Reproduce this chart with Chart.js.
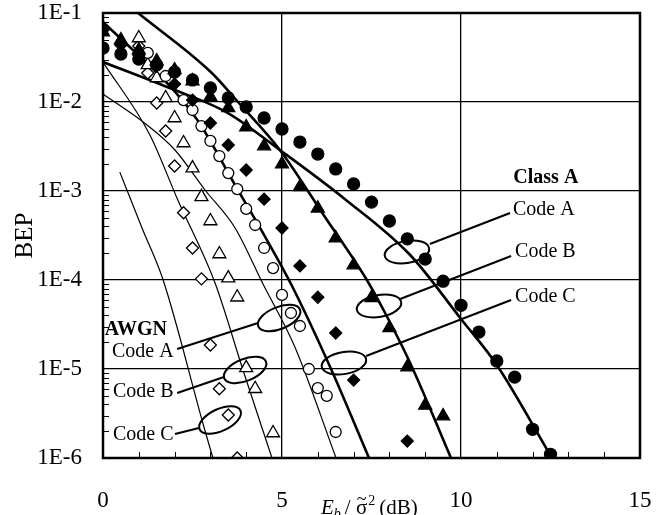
<!DOCTYPE html>
<html>
<head>
<meta charset="utf-8">
<script src="https://cdn.jsdelivr.net/npm/chart.js@4"></script>
<style>
  html, body { margin: 0; padding: 0; background: #fff; }
</style>
</head>
<body>
<canvas id="chart" width="662" height="515"></canvas>
<script>
// measured points (Class A noise, filled markers)
const classA_codeA_x = [0, 0.5, 1, 1.5, 2, 2.5, 3, 3.5, 4, 4.5, 5, 5.5, 6, 6.5, 7, 7.5, 8, 8.5, 9, 9.5, 10, 10.5, 11, 11.5, 12, 12.5];
const classA_codeA_bep = [0.0404, 0.0346, 0.0304, 0.0261, 0.0217, 0.0177, 0.0144, 0.0111, 0.00879, 0.00661, 0.00497, 0.00355, 0.0026, 0.00177, 0.0012, 7.5e-4, 4.6e-4, 2.9e-4, 1.72e-4, 9.7e-5, 5.2e-5, 2.6e-5, 1.23e-5, 8.1e-6, 2.1e-6, 1.1e-6];

const classA_codeB_x = [0, 0.5, 1, 1.5, 2, 2.5, 3, 3.5, 4, 4.5, 5, 5.5, 6, 6.5, 7, 7.5, 8, 8.5, 9, 9.5];
const classA_codeB_bep = [0.0612, 0.0497, 0.0384, 0.0289, 0.0229, 0.0172, 0.0114, 0.00857, 0.00524, 0.0032, 0.00201, 0.00111, 6.4e-4, 2.96e-4, 1.47e-4, 6.3e-5, 2.9e-5, 1.05e-5, 3.9e-6, 2.96e-6];

const classA_codeC_x = [0, 0.5, 1, 1.5, 2, 2.5, 3, 3.5, 4, 4.5, 5, 5.5, 6, 6.5, 7, 8.5];
const classA_codeC_bep = [0.0644, 0.0437, 0.0338, 0.0254, 0.0159, 0.0105, 0.00581, 0.00329, 0.00172, 8.1e-4, 3.84e-4, 1.44e-4, 6.4e-5, 2.54e-5, 7.5e-6, 1.55e-6];

// measured points (AWGN, open markers)
const awgn_codeA_x = [1.25, 1.75, 2.25, 2.5, 2.75, 3, 3.25, 3.5, 3.75, 4, 4.25, 4.5, 4.75, 5, 5.25, 5.5, 5.75, 6, 6.25, 6.5];
const awgn_codeA_bep = [0.0356, 0.0196, 0.0105, 0.00813, 0.00537, 0.00365, 0.00247, 0.00159, 0.00105, 6.3e-4, 4.15e-4, 2.29e-4, 1.36e-4, 6.8e-5, 4.26e-5, 3.04e-5, 1.0e-5, 6.1e-6, 5.0e-6, 1.96e-6];

const awgn_codeB_x = [1, 1.25, 1.5, 1.75, 2, 2.25, 2.5, 2.75, 3, 3.25, 3.5, 3.75, 4, 4.25, 4.75];
const awgn_codeB_bep = [0.0524, 0.0261, 0.0186, 0.0111, 0.00661, 0.00346, 0.00181, 8.6e-4, 4.6e-4, 1.96e-4, 1.05e-4, 6.4e-5, 1.03e-5, 6.0e-6, 1.91e-6];

const awgn_codeC_x = [1, 1.25, 1.5, 1.75, 2, 2.25, 2.5, 2.75, 3, 3.25, 3.5, 3.75];
const awgn_codeC_bep = [0.0426, 0.0212, 0.00975, 0.00472, 0.00191, 5.7e-4, 2.29e-4, 1.03e-4, 1.86e-5, 6.0e-6, 3.04e-6, 1.0e-6];

// analytical curves
const curve_classA_codeA_x = [0, 1.79, 3.49, 4.94, 6.76, 8.58, 10.0, 11.0, 12.54];
const curve_classA_codeA_bep = [0.0281, 0.01475, 0.00752, 0.00289, 8.1e-4, 1.91e-4, 3.65e-5, 1.11e-5, 1e-6];

const curve_classA_codeB_x = [0.98, 3.04, 3.77, 4.94, 6.2, 7.37, 7.88, 8.58, 9.72];
const curve_classA_codeB_bep = [0.1, 0.0212, 0.01, 0.00289, 5.1e-4, 1e-4, 4.26e-5, 1.17e-5, 1e-6];

const curve_classA_codeC_x = [0, 1.79, 2.23, 2.71, 3.69, 4.58, 5.28, 6.37, 7.43];
const curve_classA_codeC_bep = [0.0792, 0.0163, 0.01026, 0.00566, 0.001167, 2.81e-4, 8.57e-5, 1e-5, 1e-6];

const curve_awgn_codeA_x = [0, 1.23, 2.01, 2.85, 3.69, 4.47, 5.36, 6.51];
const curve_awgn_codeA_bep = [0.0123, 0.00552, 0.00289, 0.001026, 3.84e-4, 9.0e-5, 1.77e-5, 1e-6];

const curve_awgn_codeB_x = [0, 1.31, 2.09, 3.13, 3.91, 4.72];
const curve_awgn_codeB_bep = [0.0281, 0.00426, 7.92e-4, 9.25e-5, 9.75e-6, 1e-6];

const curve_awgn_codeC_x = [0.47, 1.09, 1.68, 2.82, 3.07];
const curve_awgn_codeC_bep = [1.63e-3, 3.84e-4, 1e-4, 2.23e-6, 1e-6];

const xTickLabels = [0, 5, 10, 15];
const yDecades = [-6, -5, -4, -3, -2, -1];

function pts(xs, ys) {
  return xs.map((v, i) => ({ x: v, y: ys[i] }));
}

function markers(label, xs, ys, style, filled, r) {
  return {
    label: label,
    data: pts(xs, ys),
    showLine: false,
    pointStyle: style,
    pointRadius: r,
    pointBorderWidth: 1.3,
    pointBorderColor: '#000',
    pointBackgroundColor: filled ? '#000' : '#fff',
    order: 1
  };
}

function curve(label, xs, ys, w) {
  return {
    label: label,
    data: pts(xs, ys),
    showLine: true,
    borderColor: '#000',
    borderWidth: w,
    pointRadius: 0,
    cubicInterpolationMode: 'monotone',
    order: 2
  };
}

const FONT = "'Liberation Serif', 'Times New Roman', serif";

// labels and ellipses, placed in data units (x, log10 BEP)
const annotations = {
  texts: [
    { t: 'Class A', x: 12.37, ly: -2.854, bold: true, align: 'center' },
    { t: 'Code A', x: 11.45, ly: -3.213, align: 'left' },
    { t: 'Code B', x: 11.51, ly: -3.685, align: 'left' },
    { t: 'Code C', x: 11.51, ly: -4.191, align: 'left' },
    { t: 'AWGN', x: 0.05, ly: -4.562, bold: true, align: 'left' },
    { t: 'Code A', x: 0.25, ly: -4.809, align: 'left' },
    { t: 'Code B', x: 0.28, ly: -5.258, align: 'left' },
    { t: 'Code C', x: 0.28, ly: -5.742, align: 'left' }
  ],
  ellipses: [
    { x: 8.49, ly: -3.685, rot: -10 },
    { x: 7.71, ly: -4.292, rot: -10 },
    { x: 6.73, ly: -4.933, rot: -10 },
    { x: 4.92, ly: -4.427, rot: -22 },
    { x: 3.97, ly: -5.011, rot: -22 },
    { x: 3.27, ly: -5.573, rot: -25 }
  ],
  leaders: [
    [9.13, -3.596, 11.37, -3.247],
    [8.30, -4.213, 11.40, -3.730],
    [7.35, -4.854, 11.40, -4.225],
    [4.33, -4.483, 2.07, -4.775],
    [3.38, -5.09, 2.07, -5.27],
    [2.68, -5.663, 2.01, -5.73]
  ]
};

const decor = {
  id: 'decor',
  beforeDatasetsDraw(chart) {
    const { ctx, chartArea: a, scales: { x, y } } = chart;
    ctx.save();
    ctx.strokeStyle = '#000';
    ctx.lineWidth = 1;
    ctx.beginPath();
    for (let e = -6; e < -1; e++) {
      for (let k = 2; k <= 9; k++) {
        const py = Math.round(y.getPixelForValue(k * Math.pow(10, e))) + 0.5;
        ctx.moveTo(a.left, py); ctx.lineTo(a.left + 6, py);
      }
    }
    for (let v = 1; v < 15; v++) {
      if (v % 5 === 0) continue;
      const px = Math.round(x.getPixelForValue(v)) + 0.5;
      ctx.moveTo(px, a.bottom); ctx.lineTo(px, a.bottom - 6);
    }
    ctx.stroke();
    ctx.restore();
  },
  afterDatasetsDraw(chart) {
    const { ctx, chartArea: a, scales: { x, y } } = chart;
    const px = v => x.getPixelForValue(v);
    const py = l => y.getPixelForValue(Math.pow(10, l));
    ctx.save();
    // frame
    ctx.strokeStyle = '#000';
    ctx.lineWidth = 2.5;
    ctx.strokeRect(a.left, a.top, a.right - a.left, a.bottom - a.top);

    ctx.lineWidth = 2;
    annotations.ellipses.forEach(e => {
      ctx.beginPath();
      ctx.ellipse(px(e.x), py(e.ly), 22.5, 11, e.rot * Math.PI / 180, 0, 2 * Math.PI);
      ctx.stroke();
    });
    annotations.leaders.forEach(l => {
      ctx.beginPath();
      ctx.moveTo(px(l[0]), py(l[1]));
      ctx.lineTo(px(l[2]), py(l[3]));
      ctx.stroke();
    });
    ctx.fillStyle = '#000';
    ctx.textBaseline = 'middle';
    annotations.texts.forEach(t => {
      ctx.font = (t.bold ? 'bold ' : '') + '20px ' + FONT;
      ctx.textAlign = t.align;
      ctx.fillText(t.t, px(t.x), py(t.ly));
    });

    // x axis title: E_b / sigma~^2 (dB)
    const cx = 321, base = 514;
    ctx.textAlign = 'left';
    ctx.textBaseline = 'alphabetic';
    ctx.font = 'italic 21px ' + FONT;
    ctx.fillText('E', cx, base);
    let w = ctx.measureText('E').width;
    ctx.font = 'italic 14px ' + FONT;
    ctx.fillText('b', cx + w, base + 4);
    w += ctx.measureText('b').width + 4;
    ctx.font = '21px ' + FONT;
    ctx.fillText('/ ', cx + w, base);
    w += ctx.measureText('/ ').width;
    const sw = ctx.measureText('\u03C3').width;
    ctx.fillText('\u03C3', cx + w, base);
    ctx.font = '18px ' + FONT;
    ctx.textAlign = 'center';
    ctx.fillText('~', cx + w + sw / 2, base - 9);
    ctx.textAlign = 'left';
    w += sw;
    ctx.font = '14px ' + FONT;
    ctx.fillText('2', cx + w + 1, base - 9);
    w += ctx.measureText('2').width + 5;
    ctx.font = '21px ' + FONT;
    ctx.fillText('(dB)', cx + w, base);
    ctx.restore();
  }
};

new Chart(document.getElementById('chart'), {
  type: 'scatter',
  data: {
    datasets: [
      curve('Class A Code A (analysis)', curve_classA_codeA_x, curve_classA_codeA_bep, 2.6),
      curve('Class A Code B (analysis)', curve_classA_codeB_x, curve_classA_codeB_bep, 2.6),
      curve('Class A Code C (analysis)', curve_classA_codeC_x, curve_classA_codeC_bep, 2.6),
      curve('AWGN Code A (analysis)', curve_awgn_codeA_x, curve_awgn_codeA_bep, 1.2),
      curve('AWGN Code B (analysis)', curve_awgn_codeB_x, curve_awgn_codeB_bep, 1.2),
      curve('AWGN Code C (analysis)', curve_awgn_codeC_x, curve_awgn_codeC_bep, 1.2),
      markers('Class A Code A', classA_codeA_x, classA_codeA_bep, 'circle', true, 6),
      markers('Class A Code B', classA_codeB_x, classA_codeB_bep, 'triangle', true, 7.5),
      markers('Class A Code C', classA_codeC_x, classA_codeC_bep, 'rectRot', true, 6),
      markers('AWGN Code A', awgn_codeA_x, awgn_codeA_bep, 'circle', false, 5.5),
      markers('AWGN Code B', awgn_codeB_x, awgn_codeB_bep, 'triangle', false, 7.5),
      markers('AWGN Code C', awgn_codeC_x, awgn_codeC_bep, 'rectRot', false, 6)
    ]
  },
  options: {
    responsive: false,
    animation: false,
    layout: { padding: { top: 13, right: 22, left: 0, bottom: 0 } },
    plugins: { legend: { display: false }, tooltip: { enabled: false } },
    scales: {
      x: {
        type: 'linear',
        min: 0, max: 15,
        afterFit: s => { s.height = 57; s.paddingLeft = 0; s.paddingRight = 0; },
        afterBuildTicks: s => { s.ticks = xTickLabels.map(v => ({ value: v })); },
        ticks: { font: { family: FONT, size: 23 }, color: '#000', padding: 29, maxRotation: 0 },
        grid: { drawTicks: false, color: '#000', lineWidth: 1.3 },
        border: { display: false }
      },
      y: {
        type: 'logarithmic',
        min: 1e-6, max: 1e-1,
        afterFit: s => { s.width = 103; s.paddingTop = 0; s.paddingBottom = 0; },
        afterBuildTicks: s => { s.ticks = yDecades.map(e => ({ value: Math.pow(10, e) })); },
        ticks: {
          font: { family: FONT, size: 23 }, color: '#000', padding: 21, autoSkip: false,
          callback: v => '1E' + Math.round(Math.log10(v))
        },
        title: { display: true, text: 'BEP', font: { family: FONT, size: 25 }, color: '#000', padding: { top: 10, bottom: 0 } },
        grid: { drawTicks: false, color: '#000', lineWidth: 1.3 },
        border: { display: false }
      }
    }
  },
  plugins: [decor]
});
</script>
</body>
</html>
